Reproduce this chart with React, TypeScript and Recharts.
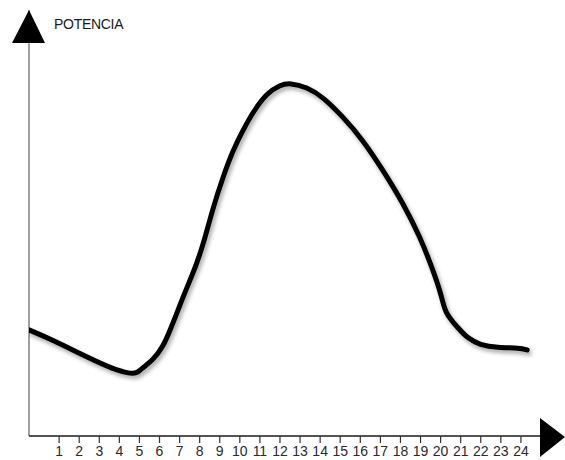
import React from "react";
import { LineChart, Line, XAxis, YAxis, ReferenceLine, ReferenceDot } from "recharts";

const hours = [-0.5, 0.7, 2.39, 3.68, 4.53, 4.88, 5.03, 5.68, 6.17, 6.53, 6.87, 7.17, 7.52, 7.87, 8.27, 8.66, 9.16, 9.66, 10.16, 10.66, 11.35, 12.0, 12.5, 13.34, 14.14, 15.14, 16.13, 17.13, 18.13, 18.98, 19.62, 20.07, 20.22, 20.82, 21.35, 21.96, 22.81, 23.96, 24.31];
const power = [24.9, 22.5, 18.5, 15.7, 14.6, 14.8, 15.5, 17.8, 20.9, 24.9, 28.9, 32.6, 36.6, 40.6, 46.5, 53.5, 60.8, 67.1, 71.8, 76.1, 80.5, 82.4, 82.9, 81.9, 79.6, 74.9, 69.5, 62.4, 54.7, 46.7, 39.0, 32.6, 28.9, 25.6, 22.9, 21.4, 20.7, 20.7, 20.2];
const tickHours = [1, 2, 3, 4, 5, 6, 7, 8, 9, 10, 11, 12, 13, 14, 15, 16, 17, 18, 19, 20, 21, 22, 23, 24];
const yTitle = "POTENCIA";

const data = hours.map((h, i) => ({ h, p: power[i] }));

const FONT = "'Liberation Sans', Arial, sans-serif";

const UpArrow = (props: any) => {
  const { cx, cy } = props;
  return (
    <g>
      <polygon points={`${cx},${cy} ${cx - 17},${cy + 33} ${cx + 16},${cy + 33}`} fill="#000" />
      <text x={cx + 25} y={cy + 18.5} fontFamily={FONT} fontSize={14} letterSpacing={-0.3} fill="#1a1a1a">
        {yTitle}
      </text>
    </g>
  );
};

const RightArrow = (props: any) => {
  const { cx, cy } = props;
  return <polygon points={`${cx - 1},${cy - 18} ${cx - 1},${cy + 21} ${cx + 24},${cy + 1}`} fill="#000" />;
};

export default function App() {
  return (
    <div style={{ position: "absolute", left: 0, top: 0, width: 565, height: 460, background: "#fff" }}>
      <LineChart width={565} height={460} data={data} margin={{ top: 10, right: 24, bottom: 0, left: 29 }}>
        <XAxis
          dataKey="h"
          type="number"
          domain={[-0.5, 25]}
          ticks={tickHours}
          interval={0}
          height={24}
          axisLine={{ stroke: "#1a1a1a", strokeWidth: 1.3 }}
          tickLine={{ stroke: "#333", strokeWidth: 1.2 }}
          tickSize={7}
          tickMargin={3}
          tick={{ fill: "#2a2a2a", fontSize: 14, fontFamily: FONT }}
          allowDataOverflow
        />
        <YAxis hide width={0} type="number" domain={[0, 100]} />
        <ReferenceLine x={-0.5} stroke="#808080" strokeWidth={1.5} />
        <Line
          type="basis"
          dataKey="p"
          stroke="#000"
          strokeWidth={5}
          dot={false}
          isAnimationActive={false}
          strokeLinecap="round"
          style={{ filter: "drop-shadow(2px 3px 2px rgba(0,0,0,0.35))" }}
        />
        <ReferenceDot x={-0.5} y={100} r={0} shape={UpArrow} ifOverflow="visible" />
        <ReferenceDot x={25} y={0} r={0} shape={RightArrow} ifOverflow="visible" />
      </LineChart>
    </div>
  );
}
